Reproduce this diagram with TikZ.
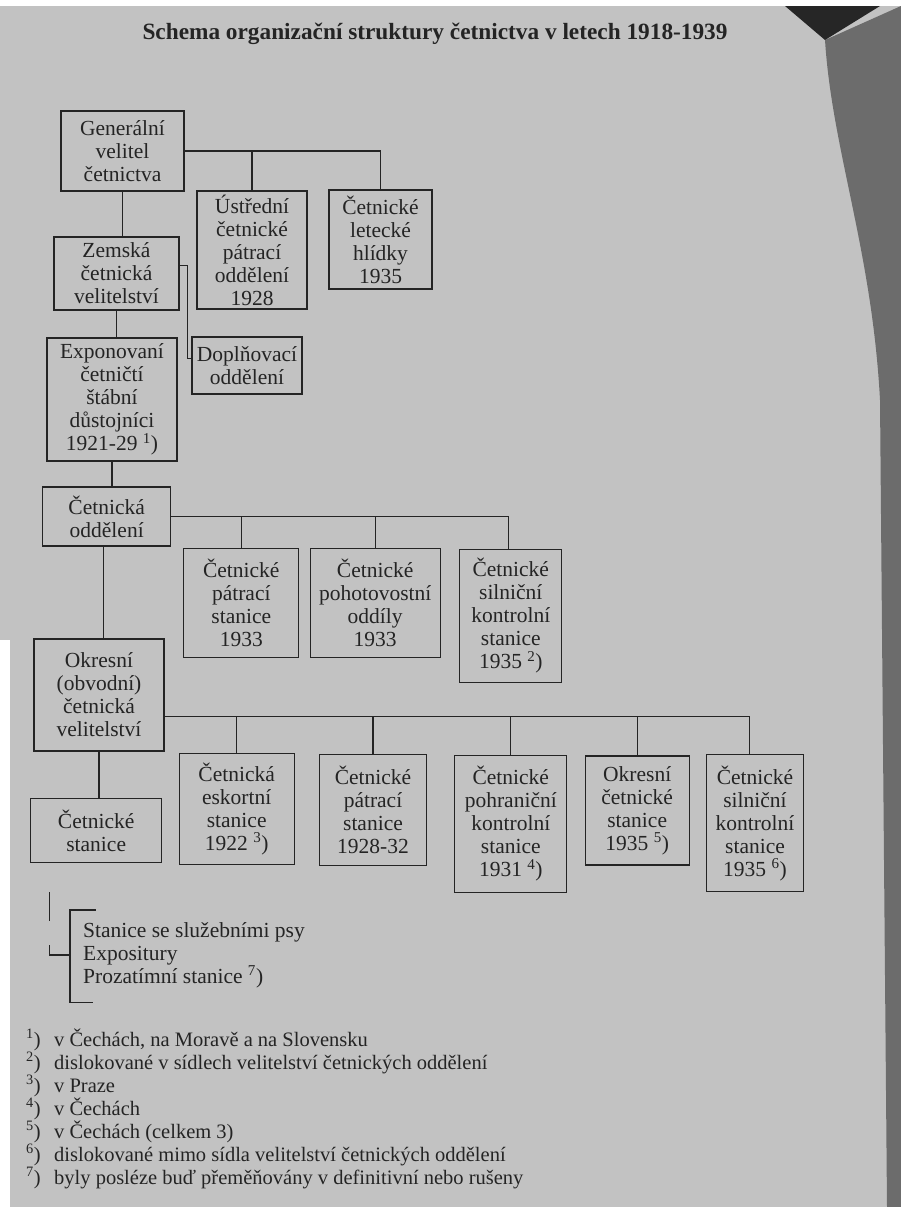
\documentclass[tikz,border=0pt]{standalone}
\usepackage{fontspec}
\setmainfont{Liberation Serif}
\usetikzlibrary{positioning}
\definecolor{paper}{RGB}{194,194,194}
\definecolor{nextpage}{RGB}{108,108,108}
\definecolor{ink}{RGB}{36,36,36}
\tikzset{
 orgbox/.style={draw=ink, line width=1.3pt, inner sep=0pt, align=center, text=ink, font=\fontsize{21.5}{23}\selectfont},
 orgline/.style={draw=ink, line width=1.3pt},
 listtext/.style={inner sep=0pt, align=left, text=ink, font=\fontsize{21.5}{23}\selectfont},
 notetext/.style={inner sep=0pt, text=ink, font=\fontsize{20.5}{23}\selectfont},
}

\begin{document}
\begin{tikzpicture}[x=1pt,y=-1pt]
\fill[paper] (0,0) rectangle (901,1207);
\fill[nextpage] (825,40) .. controls (832,150) and (872,250) .. (880,400) -- (887,1207) -- (901,1207) -- (901,6) -- cycle;
\fill[black!85] (785,6) -- (880,6) -- (825,40) -- cycle;
\fill[white] (0,0) rectangle (901,6);
\fill[white] (0,640) rectangle (10,1207);
\useasboundingbox (0,0) rectangle (901,1207);

\node[text=ink, font=\bfseries\fontsize{23.3}{26}\selectfont, anchor=base] (title) at (435,40) {Schema organizační struktury četnictva v letech 1918-1939};

\node[orgbox, minimum width=123pt, minimum height=80pt] (gen) at (122.5,151) {Generální\\velitel\\četnictva};
\node[orgbox, minimum width=110pt, minimum height=118pt] (ustr) at (252,250) {Ústřední\\četnické\\pátrací\\oddělení\\1928};
\node[orgbox, minimum width=103pt, minimum height=99pt] (let) at (380.5,239.5) {Četnické\\letecké\\hlídky\\1935};
\node[orgbox, minimum width=125pt, minimum height=73pt] (zem) at (116.5,273.5) {Zemská\\četnická\\velitelství};
\node[orgbox, minimum width=110pt, minimum height=57pt] (dopl) at (247,365.5) {Doplňovací\\oddělení};
\node[orgbox, minimum width=130pt, minimum height=123pt] (expo) at (112,399.5) {Exponovaní\\četničtí\\štábní\\důstojníci\\1921-29 \textsuperscript{1})};
\node[orgbox, minimum width=128pt, minimum height=59pt] (odd) at (106.7,516.5) {Četnická\\oddělení};
\node[orgbox, minimum width=115pt, minimum height=109pt] (patr) at (241.3,602.8) {Četnické\\pátrací\\stanice\\1933};
\node[orgbox, minimum width=130pt, minimum height=109pt] (poh) at (375.2,602.7) {Četnické\\pohotovostní\\oddíly\\1933};
\node[orgbox, minimum width=102pt, minimum height=133pt] (siln1) at (510.8,615.7) {Četnické\\silniční\\kontrolní\\stanice\\1935 \textsuperscript{2})};
\node[orgbox, minimum width=130pt, minimum height=112pt] (okr) at (99,695) {Okresní\\(obvodní)\\četnická\\velitelství};
\node[orgbox, minimum width=131pt, minimum height=64pt] (stan) at (96.2,830.5) {Četnické\\stanice};
\node[orgbox, minimum width=115pt, minimum height=111pt] (esk) at (236.7,808.7) {Četnická\\eskortní\\stanice\\1922 \textsuperscript{3})};
\node[orgbox, minimum width=107pt, minimum height=111pt] (patr2) at (373,810.3) {Četnické\\pátrací\\stanice\\1928-32};
\node[orgbox, minimum width=112pt, minimum height=137pt] (pohr) at (510.8,823.7) {Četnické\\pohraniční\\kontrolní\\stanice\\1931 \textsuperscript{4})};
\node[orgbox, minimum width=104pt, minimum height=109pt] (okrst) at (637.2,810.5) {Okresní\\četnické\\stanice\\1935 \textsuperscript{5})};
\node[orgbox, minimum width=97pt, minimum height=137pt] (siln2) at (755,823.3) {Četnické\\silniční\\kontrolní\\stanice\\1935 \textsuperscript{6})};

\draw[orgline] (gen.east) -| (let.north);
\draw[orgline] (ustr.north) -- (ustr.north |- gen.east);
\draw[orgline] (gen.south) -- (zem.north -| gen.south);
\draw[orgline] (zem.south) -- (expo.north -| zem.south);
\draw[orgline] ([yshift=8pt]zem.east) -- ++(8,0) |- ([yshift=7pt]dopl.west);
\draw[orgline] (expo.south) -- (odd.north -| expo.south);

\draw[orgline] (odd.east) -| ([xshift=-2pt]siln1.north);
\foreach \n in {patr,poh} {
 \draw[orgline] (\n.north) -- (\n.north |- odd.east);
}
\draw[orgline] ([xshift=-3pt]odd.south) -- ([xshift=-3pt]okr.north -| odd.south);

\coordinate (okrbus) at ([yshift=-21.7pt]okr.east);
\draw[orgline] (okrbus) -| ([xshift=-5.7pt]siln2.north);
\foreach \n in {esk,patr2,pohr,okrst} {
 \draw[orgline] (\n.north) -- (\n.north |- okrbus);
}
\draw[orgline] (okr.south) -- (stan.north -| okr.south);

\draw[orgline] (49.3,892) -- (49.3,921);
\draw[orgline] (49.3,945) |- (70,955);
\draw[orgline] (95.5,910) -| (70,1002.5) -- (93,1002.5);
\node[listtext, anchor=west] (extra) at (83,955) {Stanice se služebními psy\\Expositury\\Prozatímní stanice \textsuperscript{7})};

\foreach \txt [count=\i] in {{v Čechách, na Moravě a na Slovensku},
 {dislokované v sídlech velitelství četnických oddělení},
 {v Praze}, {v Čechách}, {v Čechách (celkem 3)},
 {dislokované mimo sídla velitelství četnických oddělení},
 {byly posléze buď přeměňovány v definitivní nebo rušeny}} {
 \node[notetext, anchor=base west] (note\i) at (26,{1023+23*\i}) {\makebox[28pt][l]{\textsuperscript{\i})}\txt};
}
\end{tikzpicture}
\end{document}
